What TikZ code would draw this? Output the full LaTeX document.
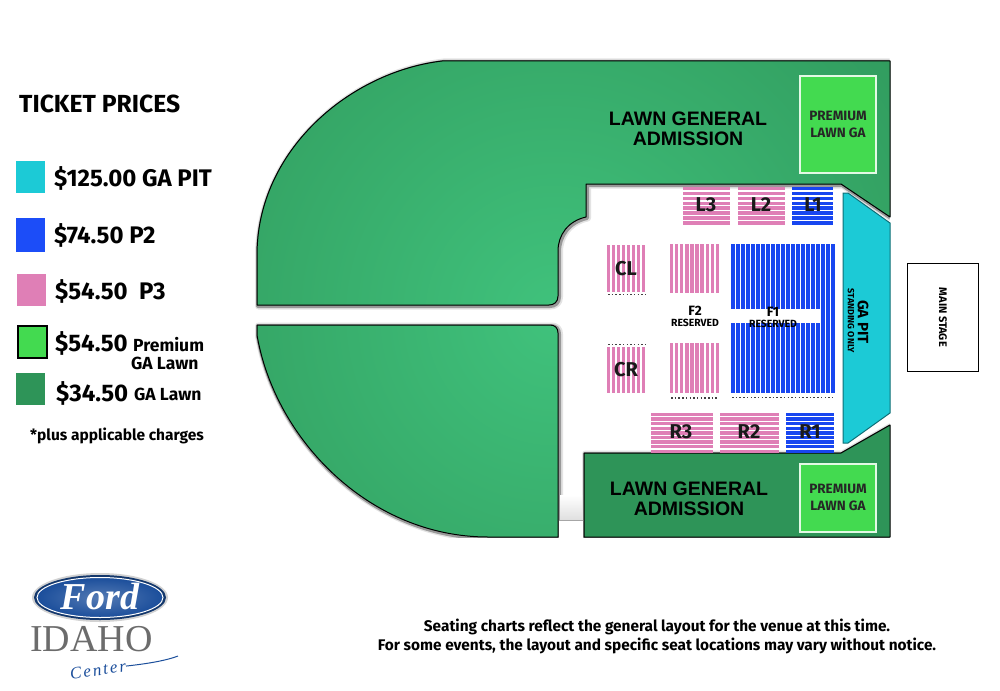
\documentclass[tikz,border=0pt]{standalone}
\usepackage{fontspec}
\setmainfont{Fira Sans}
\newfontfamily\lawnfont{Liberation Sans}
\newfontfamily\logofont{Liberation Serif}
\usetikzlibrary{shapes.geometric}
\definecolor{pitcyan}{HTML}{1CCAD6}
\definecolor{seatblue}{HTML}{1846F0}
\definecolor{swatchblue}{HTML}{1C4DF8}
\definecolor{seatpink}{HTML}{DF7FB6}
\definecolor{premgreen}{HTML}{43DA50}
\definecolor{lawndark}{HTML}{2E9458}
\definecolor{lawnlight}{HTML}{40C27C}
\definecolor{fordblue}{HTML}{1B4E9B}
\newcommand{\upperlawn}{(257,305) -- (257,255) .. controls (257,150) and (350,72) .. (442,61) -- (890,61) -- (890,217) -- (841,184) -- (586,184) -- (586,217) .. controls (568,221) and (558,235) .. (558,251) -- (558,296) .. controls (558,302) and (554,305) .. (549,305) -- cycle}
\newcommand{\lowerlawn}{(257,325) -- (550,325) .. controls (555,325) and (558,328) .. (558,333) -- (558,537) -- (488,537) .. controls (370,537) and (275,440) .. (257,335) -- cycle}
\newcommand{\frontlawn}{(584,453) -- (841,453) -- (890,425) -- (890,537) -- (584,537) -- cycle}
\tikzset{
  lawn/.style={draw=black,line width=1pt,line join=round},
  halo/.style={draw=gray!22,line width=7pt,line join=round,shift={(1.5,1)}},
  rim/.style={draw=gray!80,line width=4pt,line join=round,shift={(1,1)}},
  swatch/.style={minimum width=29pt,minimum height=32pt,inner sep=0pt,anchor=north west},
  pricetext/.style={anchor=west,inner sep=0pt,font=\bfseries\fontsize{24}{26}\selectfont},
  smalltext/.style={anchor=west,inner sep=0pt,font=\bfseries\fontsize{17.5}{19}\selectfont},
  lawntext/.style={align=center,inner sep=0pt,font=\lawnfont\bfseries\fontsize{19.5}{20}\selectfont},
  premtext/.style={align=center,inner sep=0pt,font=\bfseries\fontsize{13.5}{17.5}\selectfont,text=black!85},
  premzone/.style={draw=white!85!premgreen,line width=2pt,fill=premgreen},
  pinkrow/.style={draw=seatpink,line width=3.4pt},
  bluerow/.style={draw=seatblue,line width=3.4pt},
  seatlabel/.style={inner sep=0pt,text=black!90,font=\bfseries\fontsize{20}{20}\selectfont},
  reserved/.style={inner sep=0pt,font=\bfseries\fontsize{10.4}{11}\selectfont},
  seatnums/.style={draw=black!75,line width=1.5pt,dash pattern=on 1.5pt off 2.2pt},
  footnote/.style={inner sep=0pt,font=\bfseries\fontsize{15.4}{16}\selectfont}
}
\begin{document}
\begin{tikzpicture}[x=1pt,y=-1pt]
  \useasboundingbox (0,0) rectangle (1000,690);
  % shadows under the lawns
  \begin{scope}
    \clip (240,50) rectangle (889.5,537.5);
    \foreach \shadow in {halo,rim}{
      \path[\shadow] \upperlawn;
      \path[\shadow] \lowerlawn;
      \path[\shadow] \frontlawn;
    }
  \end{scope}
  \shade[top color=white,bottom color=gray!25] (560,495) rectangle (582,520);
  \draw[gray!70,line width=1pt] (558,520) -- (584,520);
  \fill[white] (559,521) rectangle (583,540);
  % lawns
  \fill[lawndark] \upperlawn;
  \begin{scope}
    \clip \upperlawn;
    \shade[inner color=lawnlight,outer color=lawndark] (555,315) circle (520);
  \end{scope}
  \draw[lawn] \upperlawn;
  \begin{scope}
    \clip \lowerlawn;
    \shade[inner color=lawnlight,outer color=lawndark] (555,315) circle (520);
  \end{scope}
  \draw[lawn] \lowerlawn;
  \draw[lawn,fill=lawndark] \frontlawn;
  % pit and stage
  \draw[fill=pitcyan,draw=black!45!pitcyan,line width=1pt] (843,193) -- (848,193) -- (890,223) -- (890,413) -- (848,443) -- (843,443) -- cycle;
  \node[draw=black,line width=.7pt,minimum width=71pt,minimum height=108pt,anchor=north west] (stage) at (907,263) {};
  \node[rotate=-90,inner sep=0pt,font=\bfseries\fontsize{11}{11}\selectfont] (stagetext) at (stage.center) {MAIN STAGE};
  \node[rotate=-90,inner sep=0pt,font=\bfseries\fontsize{15}{15}\selectfont] (pittext) at (863,322) {GA PIT};
  \node[rotate=-90,inner sep=0pt,font=\bfseries\fontsize{9}{9}\selectfont] (pitnote) at (851,321) {STANDING ONLY};
  % premium lawn
  \node[premzone,minimum width=76pt,minimum height=97pt,anchor=north west] (premtop) at (799,75) {};
  \node[premzone,minimum width=76pt,minimum height=68pt,anchor=north west] (prembot) at (799,462.5) {};
  \node[premtext] (premtoptext) at (premtop.center) {PREMIUM\\LAWN GA};
  \node[premtext] (prembottext) at (prembot.center) {PREMIUM\\LAWN GA};
  \node[lawntext] (lawntop) at (688,129) {LAWN GENERAL\\ADMISSION};
  \node[lawntext] (lawnbot) at (689,498.5) {LAWN GENERAL\\ADMISSION};
  % seat rows
  \foreach \xa/\xb/\n/\rowstyle in {683/730/7/pinkrow,738/785/7/pinkrow,792/833/7/bluerow}
    \foreach \i in {0,...,\n}
      \draw[\rowstyle] (\xa,{188.5+\i*4.9}) -- (\xb,{188.5+\i*4.9});
  \foreach \xa/\xb/\n/\rowstyle in {651/713/8/pinkrow,720/779/8/pinkrow,786/834/8/bluerow}
    \foreach \i in {0,...,\n}
      \draw[\rowstyle] (\xa,{414.5+\i*4.6}) -- (\xb,{414.5+\i*4.6});
  % seat columns
  \foreach \i in {0,...,7}{
    \draw[pinkrow] ({608.5+\i*5},245) -- ({608.5+\i*5},292);
    \draw[pinkrow] ({608.5+\i*5},347) -- ({608.5+\i*5},393);
  }
  \foreach \i in {0,...,9}{
    \draw[pinkrow] ({671.5+\i*5.1},244) -- ({671.5+\i*5.1},293);
    \draw[pinkrow] ({671.5+\i*5.1},343) -- ({671.5+\i*5.1},393);
  }
  \foreach \i in {0,...,17}{
    \draw[bluerow] ({733+\i*5},244) -- ({733+\i*5},309);
    \draw[bluerow] ({733+\i*5},323) -- ({733+\i*5},393);
  }
  \foreach \i in {18,19,20}
    \draw[bluerow] ({733+\i*5},244) -- ({733+\i*5},393);
  \draw[seatnums] (608,294.5) -- (646,294.5);
  \draw[seatnums] (608,344.5) -- (646,344.5);
  \draw[seatnums] (671,398) -- (719,398);
  \draw[seatnums] (732,397.5) -- (835,397.5);
  % section labels
  \node[seatlabel] (l3) at (706,205) {L3};
  \node[seatlabel] (l2) at (761,205) {L2};
  \node[seatlabel] (l1) at (813,205) {L1};
  \node[seatlabel] (cl) at (626,269) {CL};
  \node[seatlabel] (cr) at (626,370) {CR};
  \node[seatlabel] (r3) at (681,432) {R3};
  \node[seatlabel] (r2) at (749,432) {R2};
  \node[seatlabel] (r1) at (810,432) {R1};
  \node[reserved,font=\bfseries\fontsize{13.5}{14}\selectfont] (f2) at (695,311) {F2};
  \node[reserved] (f2note) at (695,322.5) {RESERVED};
  \node[reserved,font=\bfseries\fontsize{13.5}{14}\selectfont] (f1) at (773,312) {F1};
  \node[reserved] (f1note) at (773,323.5) {RESERVED};
  % legend
  \node[anchor=west,inner sep=0pt,font=\bfseries\fontsize{24.7}{26}\selectfont] (title) at (19,104) {TICKET PRICES};
  \node[swatch,fill=pitcyan] (swa) at (16,161) {};
  \node[swatch,fill=swatchblue,minimum height=34pt] (swb) at (16,218) {};
  \node[swatch,fill=seatpink] (swc) at (17,274) {};
  \node[swatch,fill=premgreen,draw=black,line width=2pt,minimum height=32pt] (swd) at (17,325) {};
  \node[swatch,fill=lawndark] (swe) at (16,373) {};
  \node[pricetext] (pa) at (54,178) {\$125.00 GA PIT};
  \node[pricetext] (pb) at (54,235) {\$74.50 P2};
  \node[pricetext] (pc) at (55,291) {\$54.50\ \ P3};
  \node[pricetext] (pd) at (55,343) {\$54.50};
  \node[smalltext] (pdnote) at (133,345) {Premium};
  \node[smalltext] (pdnoteb) at (131,363) {GA Lawn};
  \node[pricetext] (pe) at (56,393) {\$34.50};
  \node[smalltext] (penote) at (134,394) {GA Lawn};
  \node[anchor=west,inner sep=0pt,font=\bfseries\fontsize{15.5}{16}\selectfont] (charges) at (30,436) {*plus applicable charges};
  % notice
  \node[footnote] (notea) at (657,627) {Seating charts reflect the general layout for the venue at this time.};
  \node[footnote] (noteb) at (657,646) {For some events, the layout and specific seat locations may vary without notice.};
  % logo
  \node[ellipse,minimum width=136pt,minimum height=49pt,inner sep=0pt,fill=gray!35] (ovalrim) at (100,597.5) {};
  \node[ellipse,minimum width=132pt,minimum height=45pt,inner sep=0pt,fill=fordblue!70!black] (ovalout) at (ovalrim.center) {};
  \node[ellipse,minimum width=126pt,minimum height=40pt,inner sep=0pt,draw=white,line width=1pt,inner color=fordblue!75!white,outer color=fordblue] (oval) at (ovalrim.center) {};
  \node[inner sep=0pt,text=white,font=\logofont\bfseries\itshape\fontsize{38}{38}\selectfont] (ford) at (100,596) {Ford};
  \node[anchor=base west,inner sep=0pt,text=gray!85!black,font=\logofont\fontsize{38}{38}\selectfont] (idaho) at (30,651) {IDAHO};
  \node[rotate=8,inner sep=0pt,text=fordblue,font=\logofont\itshape\fontsize{17}{17}\selectfont\addfontfeature{LetterSpace=12}] (center) at (98,670) {Center};
  \coordinate (tail) at (178,656);
  \draw[fordblue,line width=1pt] (center.east) .. controls (145,664) and (165,661) .. (tail);
\end{tikzpicture}
\end{document}
